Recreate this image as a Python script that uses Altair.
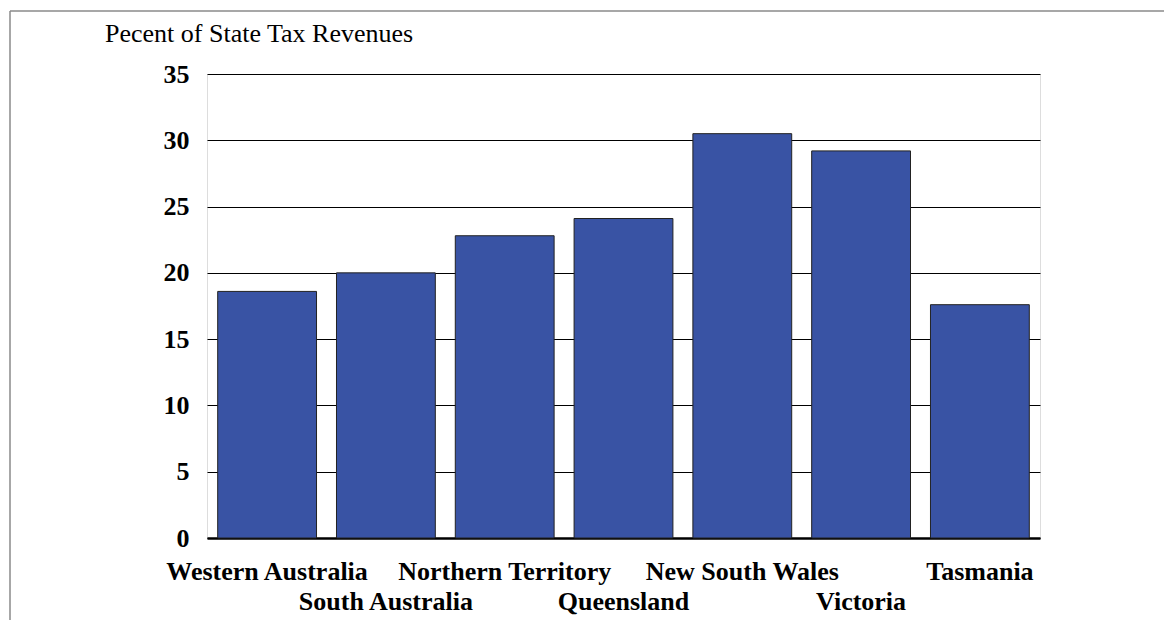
import altair as alt
import pandas as pd

states = ["Western Australia", "South Australia", "Northern Territory", "Queensland",
          "New South Wales", "Victoria", "Tasmania"]
values = [18.6, 20.0, 22.8, 24.1, 30.5, 29.2, 17.6]
y_ticks = [0, 5, 10, 15, 20, 25, 30, 35]
title_text = "Pecent of State Tax Revenues"

df = pd.DataFrame({"state": states, "value": values})

second_row = [s for i, s in enumerate(states) if i % 2 == 1]
label_expr = ("indexof(" + str(second_row) + ", datum.value) >= 0 ? ['', datum.value] : datum.value")

FONT = "Liberation Serif"

bars = alt.Chart(df).mark_bar(color="#3953A4", stroke="#222222", strokeWidth=1).encode(
    x=alt.X("state:N", sort=states,
            scale=alt.Scale(paddingInner=0.168, paddingOuter=0.09),
            axis=alt.Axis(title=None, labelAngle=0, labelFont=FONT, labelFontSize=26,
                          labelFontWeight="bold", labelColor="black", labelPadding=20,
                          labelBaseline="top", labelLineHeight=30, labelExpr=label_expr,
                          labelLimit=0, ticks=False, domain=True, domainColor="black",
                          domainWidth=2.5, grid=False, labelOverlap=False)),
    y=alt.Y("value:Q", scale=alt.Scale(domain=[0, 35], nice=False),
            axis=alt.Axis(title=None, values=y_ticks, labelFont=FONT, labelFontSize=26,
                          labelFontWeight="bold", labelColor="black", labelPadding=18,
                          ticks=False, domain=False, grid=True, gridColor="black",
                          gridWidth=1, gridOpacity=1)),
)

title = alt.Chart(pd.DataFrame({"t": [title_text]})).mark_text(
    font=FONT, fontSize=26, align="left", baseline="alphabetic", color="black"
).encode(text="t:N", x=alt.value(-102), y=alt.value(-32))

frame_top = alt.Chart(pd.DataFrame({"a": [0]})).mark_rule(color="#8a8a8a", strokeWidth=1.5).encode(
    x=alt.value(-197), x2=alt.value(965), y=alt.value(-63))
frame_left = alt.Chart(pd.DataFrame({"a": [0]})).mark_rule(color="#8a8a8a", strokeWidth=1.5).encode(
    x=alt.value(-197), y=alt.value(-63), y2=alt.value(560))

chart = alt.layer(bars, title, frame_top, frame_left).properties(
    width=833, height=464,
    padding={"left": 199, "top": 66, "right": 124, "bottom": 90},
    autosize=alt.AutoSizeParams(type="none"),
).configure_view(stroke="black", strokeWidth=1.5).configure(background="white")

chart.save("out.html", embed_options={"renderer": "svg", "actions": False})
